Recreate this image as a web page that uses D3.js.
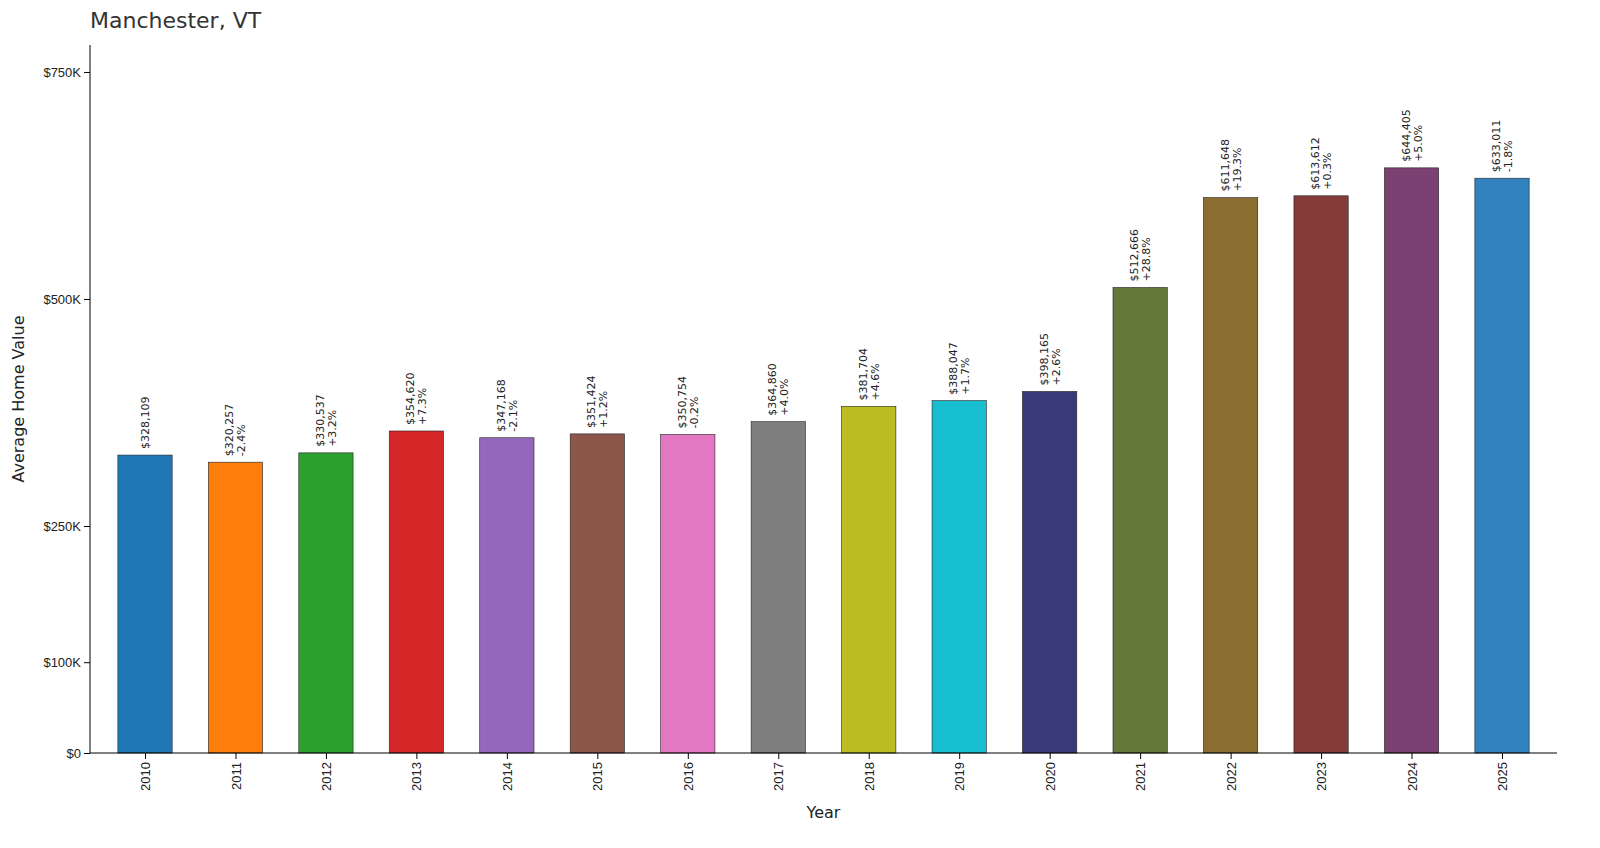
<!DOCTYPE html>
<html><head><meta charset="utf-8">
<script src="https://cdn.jsdelivr.net/npm/d3@7"></script>
<style>body{margin:0;background:#fff;font-family:"DejaVu Sans",sans-serif;}</style>
</head><body><svg id="chart" width="1600" height="848"></svg>
<script>
const years = [2010,2011,2012,2013,2014,2015,2016,2017,2018,2019,2020,2021,2022,2023,2024,2025];
const values = [328109,320257,330537,354620,347168,351424,350754,364860,381704,388047,398165,512666,611648,613612,644405,633011];
const changes = [null,"-2.4%","+3.2%","+7.3%","-2.1%","+1.2%","-0.2%","+4.0%","+4.6%","+1.7%","+2.6%","+28.8%","+19.3%","+0.3%","+5.0%","-1.8%"];
const colors = ["#1f77b4","#ff7f0e","#2ca02c","#d62728","#9467bd","#8c564b","#e377c2","#7f7f7f","#bcbd22","#17becf","#393b79","#637939","#8c6d31","#843c39","#7b4173","#3182bd"];
const yTicks = [0,100000,250000,500000,750000];
const yTickLabels = ["$0","$100K","$250K","$500K","$750K"];

const svg = d3.select("#chart");
const mLeft = 90, mRight = 1557, mTop = 45, mBottom = 753;
const x = d3.scaleLinear().domain([-0.608, years.length - 1 + 0.608]).range([mLeft, mRight]);
const y = d3.scaleLinear().domain([0, 779700]).range([mBottom, mTop]);
const bw = x(0.6) - x(0);

svg.selectAll("rect.bar").data(values).join("rect")
  .attr("x", (d, i) => x(i) - bw / 2)
  .attr("y", d => y(d))
  .attr("width", bw)
  .attr("height", d => y(0) - y(d))
  .attr("fill", (d, i) => colors[i])
  .attr("stroke", "#222").attr("stroke-width", 0.6);

// value labels
const lab = svg.selectAll("g.lab").data(values).join("g")
  .attr("transform", (d, i) => `translate(${x(i)},${y(d) - 6}) rotate(-90)`)
  .style("font-size", "11px").attr("fill", "#222");
lab.append("text").attr("x", 0).attr("y", (d, i) => changes[i] ? -2 : 4)
  .text(d => "$" + d3.format(",")(d));
lab.append("text").attr("x", 0).attr("y", 10)
  .text((d, i) => changes[i] || "");

// axes
const yAxis = svg.append("g").attr("transform", `translate(${mLeft},0)`)
  .call(d3.axisLeft(y).tickValues(yTicks).tickFormat((d, i) => yTickLabels[i]).tickSizeOuter(0));
yAxis.selectAll("text").style("font-size", "13px").attr("fill", "#222");
yAxis.select(".domain").attr("d", `M0,${mTop}V${mBottom}`);

const xAxis = svg.append("g").attr("transform", `translate(0,${mBottom})`)
  .call(d3.axisBottom(x).tickValues(d3.range(years.length)).tickFormat(i => years[i]).tickSizeOuter(0));
xAxis.select(".domain").attr("d", `M${mLeft},0H${mRight}`);
xAxis.selectAll("text").style("font-size", "13px").attr("fill", "#222")
  .attr("transform", "rotate(-90)").attr("text-anchor", "end")
  .attr("x", -9).attr("y", 0).attr("dy", "0.35em");

svg.append("text").attr("x", (mLeft + mRight) / 2).attr("y", 818).attr("text-anchor", "middle")
  .style("font-size", "16px").attr("fill", "#222").text("Year");
svg.append("text").attr("transform", `translate(24,${(mTop + mBottom) / 2}) rotate(-90)`)
  .attr("text-anchor", "middle").style("font-size", "16px").attr("fill", "#222").text("Average Home Value");
svg.append("text").attr("x", 90).attr("y", 28).style("font-size", "22px").attr("fill", "#333").text("Manchester, VT");
</script></body></html>
